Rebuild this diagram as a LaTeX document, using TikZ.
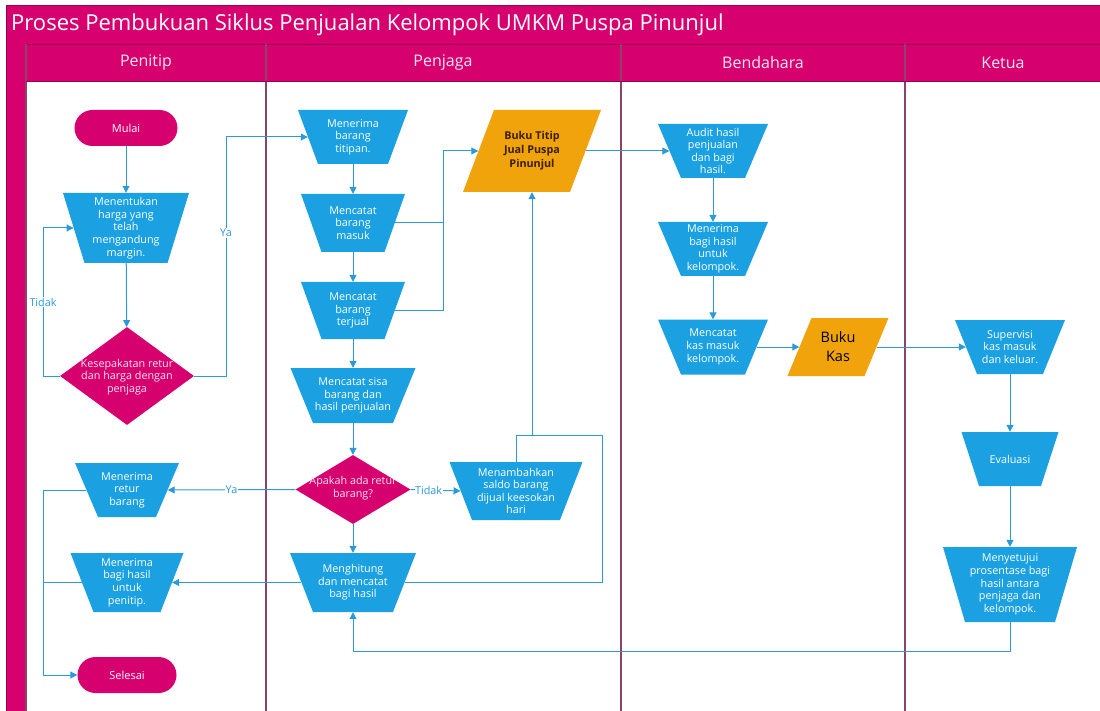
\documentclass[tikz,border=0pt]{standalone}
\usepackage{fontspec}
\setmainfont{Open Sans}
\usetikzlibrary{shapes.geometric,arrows.meta}
\definecolor{berry}{HTML}{D6006F}
\definecolor{berryd}{HTML}{9A0052}
\definecolor{tblue}{HTML}{1BA1E2}
\definecolor{torange}{HTML}{F0A30A}
\definecolor{lanec}{HTML}{8B4468}
\definecolor{conn}{HTML}{2B9AD6}
\definecolor{hdrtxt}{HTML}{FCE6F1}
\definecolor{bookt}{HTML}{3A1F00}
\tikzset{
  boxtext/.style={inner sep=0pt, text=white, font=\fontsize{10.8}{12.6}\selectfont, align=center},
  arr/.style={draw=conn, line width=1pt, -{Triangle[length=7pt,width=7pt]}},
  ln/.style={draw=conn, line width=1pt},
  lbl/.style={fill=white, text=conn, inner sep=1pt, font=\fontsize{10.8}{12}\selectfont},
  term/.style={fill=berry, rounded corners=18pt, minimum height=36pt, inner sep=0pt, text=white, font=\fontsize{11}{12}\selectfont},
  dec/.style={diamond, fill=berry, inner sep=0pt},
  hdr/.style={text=hdrtxt, font=\fontsize{16}{18}\selectfont, inner sep=0pt},
  lanedv/.style={draw=lanec, line width=1.2pt},
  booktitip/.style={font=\fontsize{10.8}{14}\selectfont\bfseries, text=bookt},
  bookkas/.style={font=\fontsize{14.5}{19}\selectfont, text=black},
}
\newcommand{\trapnode}[7]{%
  \fill[tblue] ({#2-(#4)/2},{#3-(#6)/2}) -- ({#2+(#4)/2},{#3-(#6)/2}) -- ({#2+(#5)/2},{#3+(#6)/2}) -- ({#2-(#5)/2},{#3+(#6)/2}) -- cycle;
  \node[boxtext, minimum width={(#4+#5)/2}, minimum height={#6}] (#1) at (#2,#3) {#7};
}
\newcommand{\paranode}[8]{%
  \fill[torange] ({#2-(#4)/2+(#6)/2},{#3-(#5)/2}) -- ({#2+(#4)/2+(#6)/2},{#3-(#5)/2}) -- ({#2+(#4)/2-(#6)/2},{#3+(#5)/2}) -- ({#2-(#4)/2-(#6)/2},{#3+(#5)/2}) -- cycle;
  \node[inner sep=0pt, align=center, minimum width={#4}, minimum height={#5}, #7] (#1) at (#2,#3) {#8};
}
\begin{document}
\begin{tikzpicture}[x=1pt,y=-1pt]
\useasboundingbox (0,0) rectangle (1100,711);
\fill[white] (0,0) rectangle (1100,711);
% pool frame
\fill[berry] (6,6) rectangle (1100,44);
\fill[berry] (6,44) rectangle (26,711);
\fill[berry] (26,44) rectangle (1100,81);
\draw[berryd, line width=1pt] (6,711) -- (6,6) -- (1100,6);
\draw[berryd, line width=0.8pt] (26,44) -- (1100,44);
\draw[lanedv] (26,44) -- (26,711);
\draw[lanedv] (266,44) -- (266,711);
\draw[lanedv] (621,44) -- (621,711);
\draw[lanedv] (905,44) -- (905,711);
\draw[berryd, line width=0.6pt] (26,81) -- (1100,81);
\node[anchor=west, text=white, font=\fontsize{22}{26}\selectfont, inner sep=0pt] (title) at (11,25) {Proses Pembukuan Siklus Penjualan Kelompok UMKM Puspa Pinunjul};
\node[hdr] (h1) at (146,62.5) {Penitip};
\node[hdr] (h2) at (443,62.5) {Penjaga};
\node[hdr] (h3) at (763,62.5) {Bendahara};
\node[hdr] (h4) at (1003,62.5) {Ketua};

% Penitip lane
\node[term, minimum width=103pt] (mulai) at (126,128) {Mulai};
\trapnode{tentukan}{126}{228}{126}{83}{70}{Menentukan\\harga yang\\telah\\mengandung\\margin.}
\node[dec, minimum width=134pt, minimum height=98pt] (dia1) at (127,376) {};
\node[boxtext, text=hdrtxt] (dia1t) at (127,377) {Kesepakatan retur\\dan harga dengan\\penjaga};
\trapnode{retur}{127}{490}{104}{58}{54}{Menerima\\retur\\barang}
\trapnode{bagiP}{127}{582.5}{113}{67}{59}{Menerima\\bagi hasil\\untuk\\penitip.}
\node[term, minimum width=99pt] (selesai) at (127,675) {Selesai};

% Penjaga lane
\trapnode{terima}{353}{137}{110}{70}{54}{Menerima\\barang\\titipan.}
\trapnode{masuk}{353}{223}{104}{63}{58}{Mencatat\\barang\\masuk}
\trapnode{terjual}{353}{310.5}{104}{63}{57}{Mencatat\\barang\\terjual}
\trapnode{sisa}{353}{395.5}{125}{80}{55}{Mencatat sisa\\barang dan\\hasil penjualan}
\node[dec, minimum width=115pt, minimum height=69pt] (apakah) at (353,489.5) {};
\node[boxtext, text=hdrtxt] (apakaht) at (353,488) {Apakah ada retur\\barang?};
\trapnode{tambah}{516}{491}{133}{88}{58}{Menambahkan\\saldo barang\\dijual keesokan\\hari}
\trapnode{hitung}{353}{582.5}{126}{80}{59}{Menghitung\\dan mencatat\\bagi hasil}
\paranode{buku}{532}{151}{107}{82}{31}{booktitip}{Buku Titip\\Jual Puspa\\Pinunjul}

% Bendahara lane
\trapnode{audit}{713}{151}{110}{64}{54}{Audit hasil\\penjualan\\dan bagi\\hasil.}
\trapnode{bagiK}{713}{249}{110}{64}{54}{Menerima\\bagi hasil\\untuk\\kelompok.}
\trapnode{kas}{713}{347}{110}{64}{55}{Mencatat\\kas masuk\\kelompok.}
\paranode{bukukas}{838}{347}{77}{58}{24}{bookkas}{Buku\\Kas}

% Ketua lane
\trapnode{superv}{1010}{347}{110}{66}{54}{Supervisi\\kas masuk\\dan keluar.}
\trapnode{evaluasi}{1010}{459}{97}{62}{54}{Evaluasi}
\trapnode{setuju}{1010}{584.5}{134}{90}{75}{Menyetujui\\prosentase bagi\\hasil antara\\penjaga dan\\kelompok.}

% coordinates
\coordinate (cT) at (43,376);
\coordinate (cY) at (226,376);
\coordinate (cM) at (443,223);
\coordinate (cJ) at (443,310.5);
\coordinate (j1) at (532,435);
\coordinate (j2) at (602,435);
\coordinate (cR) at (43,490);
\coordinate (cB) at (43,582.5);
\coordinate (cS) at (1010,651);

% connectors
\draw[arr] (mulai) -- (tentukan);
\draw[arr] (tentukan) -- (dia1);
\draw[arr] (dia1.west) -- (cT) |- (tentukan.west) node[pos=0.25, lbl] (ltidak1) {Tidak};
\draw[arr] (dia1.east) -- (cY) |- (terima.west) node[pos=0.3, lbl] (lya1) {Ya};
\draw[arr] (terima) -- (masuk);
\draw[arr] (masuk) -- (terjual);
\draw[arr] (terjual) -- (sisa);
\draw[arr] (sisa) -- (apakah);
\draw[arr] (apakah) -- (hitung);
\draw[arr] (masuk.east) -- (cM) |- (buku.west);
\draw[ln] (terjual.east) -- (cJ) -- (cM);
\draw[arr] (buku.east) -- (audit.west);
\draw[arr] (apakah.east) -- (tambah.west) node[pos=0.36, lbl, inner sep=0.5pt] (ltidak2) {Tidak};
\draw[arr] (hitung.east) -| (j2) -- (j1) -- (buku.south);
\draw[ln] (tambah.north) |- (j1);
\draw[arr] (apakah.west) -- (retur.east) node[pos=0.5, lbl] (lya2) {Ya};
\draw[arr] (hitung.west) -- (bagiP.east);
\draw[arr] (retur.west) -- (cR) |- (selesai.west);
\draw[ln] (bagiP.west) -- (cB);
\draw[arr] (audit) -- (bagiK);
\draw[arr] (bagiK) -- (kas);
\draw[arr] (kas.east) -- (bukukas.west);
\draw[arr] (bukukas.east) -- (superv.west);
\draw[arr] (superv) -- (evaluasi);
\draw[arr] (evaluasi) -- (setuju);
\draw[arr] (setuju.south) -- (cS) -| (hitung.south);
\end{tikzpicture}
\end{document}
